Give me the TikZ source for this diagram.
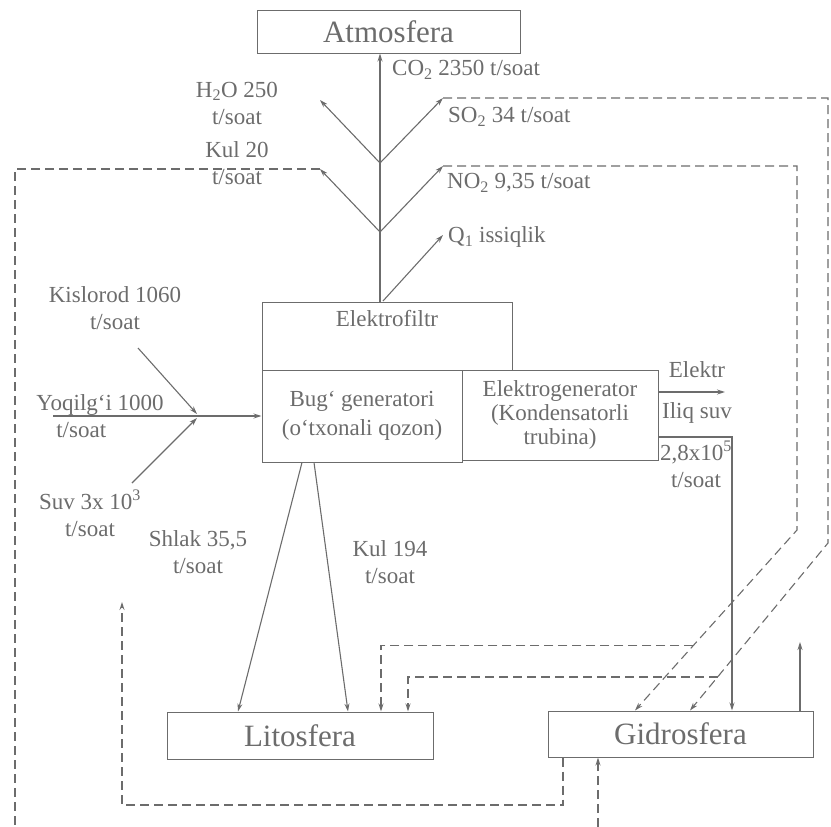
\documentclass[tikz,border=0pt]{standalone}
\usepackage{fontspec}
\setmainfont{Liberation Serif}
\usetikzlibrary{arrows.meta,calc}
\definecolor{ink}{RGB}{108,108,108}
\tikzset{
  box/.style={draw=ink,line width=1pt,rectangle,minimum width=#1,inner sep=0pt,text=ink,align=center},
  big/.style={font=\fontsize{31}{31}\selectfont},
  lbl/.style={text=ink,font=\fontsize{23}{27}\selectfont,align=center,inner sep=0pt},
  flow/.style={draw=ink,line width=1.1pt,-{Stealth[length=8pt,width=5pt]}},
  back/.style={flow,dash pattern=on 9pt off 5pt}
}

\begin{document}
\begin{tikzpicture}[x=1pt,y=-1pt]
    \useasboundingbox (0,0) rectangle (831,827);

    \node [box=263pt,minimum height=43pt,big] (atm) at (388.5,31.5) {Atmosfera};
    \node [box=250pt,minimum height=68pt,label={[lbl,anchor=north,yshift=-9pt]north:Elektrofiltr}] (filtr) at (387,336) {};
    \node [box=200pt,minimum height=92pt,font=\fontsize{23}{29}\selectfont] (bug) at (362,416) {Bug‘ generatori\\(o‘txonali qozon)};
    \node [box=196pt,minimum height=90pt,font=\fontsize{23}{24}\selectfont] (gen) at (560,415) {Elektrogenerator\\(Kondensatorli\\trubina)};
    \node [box=266pt,minimum height=47pt,big] (lito) at (300,735.5) {Litosfera};
    \node [box=265pt,minimum height=46pt,big] (gidro) at (680.5,734) {Gidrosfera};

    \node [lbl,anchor=west] (co2t) at (392,70) {CO\textsubscript{2} 2350 t/soat};
    \node [lbl,anchor=west] (so2t) at (448,117) {SO\textsubscript{2} 34 t/soat};
    \node [lbl,anchor=west] (no2t) at (447,183) {NO\textsubscript{2} 9,35 t/soat};
    \node [lbl,anchor=west] (qt) at (448,237) {Q\textsubscript{1} issiqlik};
    \node [lbl] (h2ot) at (237,103) {H\textsubscript{2}O 250\\t/soat};
    \node [lbl] (kul20t) at (237,163) {Kul 20\\t/soat};
    \node [lbl] (kist) at (115,308) {Kislorod 1060\\t/soat};
    \node [lbl,align=left] (yoqt) at (100,416) {Yoqilg‘i 1000\\\hspace{20pt}t/soat};
    \node [lbl] (suvt) at (90,513) {Suv 3x 10\textsuperscript{3}\\t/soat};
    \node [lbl] (shlt) at (198,552) {Shlak 35,5\\t/soat};
    \node [lbl] (kult) at (390,562) {Kul 194\\t/soat};
    \node [lbl] (elkt) at (697,370) {Elektr};
    \node [lbl] (iliqt) at (697,413) {Iliq suv};
    \node [lbl] (sut) at (696,464) {2,8x10\textsuperscript{5}\\t/soat};

    \coordinate (jU) at (380,163);
    \coordinate (jL) at (380,232);
    \coordinate (h2o) at (320,100);
    \coordinate (so2) at (443,98);
    \coordinate (kul20) at (320,169);
    \coordinate (no2) at (443,166);
    \coordinate (q0) at (383,301);
    \coordinate (q1) at (443,235);
    \coordinate (lft) at (15,827);
    \coordinate (sk1) at (797,530);
    \coordinate (sk2) at (828,543);
    \coordinate (g1) at ([xshift=-45.5pt]gidro.north);
    \coordinate (g2) at ([xshift=9.5pt]gidro.north);
    \coordinate (m1) at ($(sk1)!0.64!(g1)$);
    \coordinate (m2) at ($(sk2)!0.8!(g2)$);
    \coordinate (rup) at (800,642);
    \coordinate (elk) at (725,392);
    \coordinate (lc) at (122,805);
    \coordinate (lup) at (122,602);
    \coordinate (bot) at (598,827);
    \coordinate (yoq) at (53,416);
    \coordinate (kis) at (138,348);
    \coordinate (suv) at (132,483);
    \coordinate (jin) at (197,416);

    \draw [flow] (jL |- filtr.north) -- (jL |- atm.south);
    \draw [flow] (jU) -- (h2o);
    \draw [flow] (jU) -- (so2);
    \draw [flow] (jL) -- (kul20);
    \draw [flow] (jL) -- (no2);
    \draw [flow] (q0) -- (q1);

    \draw [flow] (yoq) -- (bug.west);
    \draw [flow] (kis) -- ([yshift=2pt]jin);
    \draw [flow] (suv) -- ([yshift=-2pt]jin);
    \draw [flow] ([xshift=-60pt]bug.south) -- ([xshift=-62pt]lito.north);
    \draw [flow] ([xshift=-48pt]bug.south) -- ([xshift=48pt]lito.north);

    \draw [flow] ([yshift=23pt]gen.east) -- (elk);
    \draw [flow] ([yshift=-22pt]gen.east) -| ([xshift=51.5pt]gidro.north);
    \draw [flow] ([xshift=119.5pt]gidro.north) -- (rup);

    \draw [back,-] (kul20) -| (lft);
    \draw [back] (no2) -| (sk1) -- (g1);
    \draw [back] (so2) -| (sk2) -- (g2);
    \draw [back] (m1) -| ([xshift=81pt]lito.north);
    \draw [back] (m2) -| ([xshift=108pt]lito.north);
    \draw [back] ([xshift=-117.5pt]gidro.south) |- (lc) -- (lup);
    \draw [back] (bot) -- (bot |- gidro.south);
\end{tikzpicture}
\end{document}
